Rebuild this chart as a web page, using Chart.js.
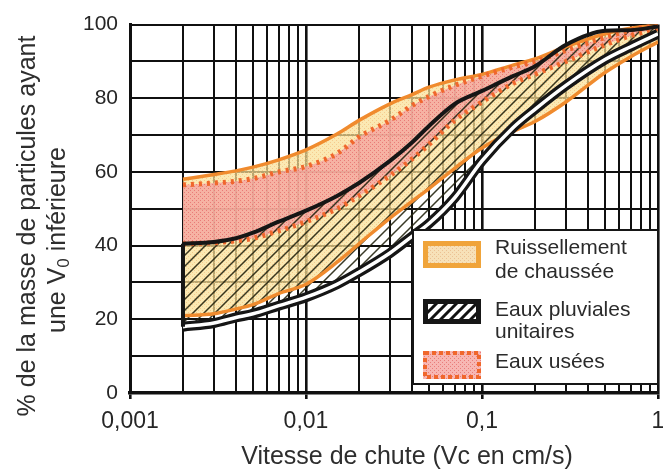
<!DOCTYPE html>
<html lang="fr">
<head>
<meta charset="utf-8">
<title>Vitesse de chute des particules</title>
<script src="https://cdn.jsdelivr.net/npm/chart.js@4.4.1/dist/chart.umd.min.js"></script>
<style>
  html, body { margin: 0; padding: 0; background: #fff; overflow: hidden; }
  canvas { display: block; }
</style>
</head>
<body>
<canvas id="graphique" width="680" height="473"></canvas>
<script>
// Vitesses de chute (cm/s) communes à toutes les courbes
const vitesses = [0.002, 0.003, 0.004, 0.005, 0.007, 0.01, 0.015, 0.02, 0.03, 0.04, 0.05, 0.07, 0.1, 0.15, 0.2, 0.3, 0.5, 0.7, 1];

// Ruissellement de chaussée (fuseau orange)
const ruissellementHaut = [58, 59.3, 60.3, 61.3, 63.3, 66, 70.3, 74, 78.5, 81, 83, 85, 86.5, 89, 90.7, 94, 97.5, 99, 100];
const ruissellementBas  = [21, 21.5, 22.8, 24, 27, 29.5, 35.5, 40.5, 47.5, 52, 55.5, 61, 66.5, 71, 73.7, 79, 87, 91.3, 95.3];

// Eaux pluviales unitaires (fuseau noir hachuré)
const pluvialesHaut = [40.5, 41, 42, 43.5, 46.5, 49.5, 53.5, 57, 63, 68, 72.5, 78.5, 82, 86, 88.7, 94.5, 98.3, 98.5, 99.5];
const pluvialesBas  = [18, 19, 20.5, 21.5, 23.7, 26, 29.5, 32.8, 38, 42.5, 46, 53, 63, 72, 77, 83.5, 90.5, 94, 97.5];

// Eaux usées (fuseau rose pointillé)
const useesHaut = [56.5, 57, 57.5, 58.2, 60, 61.5, 65, 69.5, 74, 78, 80.5, 83.5, 86, 88.5, 90, 93, 96.5, 98.5, 100];
const useesBas  = [40.5, 40.8, 41.3, 42, 44, 46.5, 50, 53.5, 59, 63.5, 67.5, 74, 79, 84, 86.5, 90, 94.5, 97, 99];

// Axes
const graduationsX = [0.001, 0.002, 0.003, 0.004, 0.005, 0.006, 0.007, 0.008, 0.009,
                      0.01, 0.02, 0.03, 0.04, 0.05, 0.06, 0.07, 0.08, 0.09,
                      0.1, 0.2, 0.3, 0.4, 0.5, 0.6, 0.7, 0.8, 0.9, 1];
const decadesX = [0.001, 0.01, 0.1, 1];
const etiquettesX = ['0,001', '0,01', '0,1', '1'];
const etiquettesY = [0, 20, 40, 60, 80, 100];

const titreX = 'Vitesse de chute (Vc en cm/s)';
const titreY1 = '% de la masse de particules ayant';
const titreY2 = ['une V', '0', ' inférieure'];
const nomsLegende = [['Ruissellement', 'de chaussée'], ['Eaux pluviales', 'unitaires'], ['Eaux usées']];

const POLICE = '"Liberation Sans", Arial, Helvetica, sans-serif';

function points(serie) {
    return vitesses.map((v, i) => ({ x: v, y: serie[i] }));
}

// Motifs de remplissage
function motifPoints(fond, point, taille) {
    const c = document.createElement('canvas');
    c.width = c.height = taille;
    const g = c.getContext('2d');
    g.fillStyle = fond;
    g.fillRect(0, 0, taille, taille);
    g.fillStyle = point;
    g.fillRect(0, 0, 1, 1);
    g.fillRect(taille / 2, taille / 2, 1, 1);
    return g.createPattern(c, 'repeat');
}

function motifHachures(fond, couleur, pas, epaisseur) {
    const c = document.createElement('canvas');
    c.width = c.height = pas;
    const g = c.getContext('2d');
    if (fond) {
        g.fillStyle = fond;
        g.fillRect(0, 0, pas, pas);
    }
    g.strokeStyle = couleur;
    g.lineWidth = epaisseur;
    g.beginPath();
    g.moveTo(0, pas); g.lineTo(pas, 0);
    g.moveTo(-pas / 2, pas / 2); g.lineTo(pas / 2, -pas / 2);
    g.moveTo(pas / 2, pas * 1.5); g.lineTo(pas * 1.5, pas / 2);
    g.stroke();
    return g.createPattern(c, 'repeat');
}

const remplJaune = motifPoints('rgba(250, 224, 150, 0.72)', 'rgba(243, 192, 130, 0.75)', 4);
const remplRose = motifPoints('rgba(245, 165, 160, 0.8)', 'rgba(232, 118, 115, 0.9)', 4);
const remplHachures = motifHachures(null, 'rgba(35, 35, 15, 0.9)', 11, 1.5);
const legJaune = motifPoints('#f7e1b8', '#ecc193', 4);
const legHachures = motifHachures('#ffffff', '#111111', 10, 3);

const ORANGE = '#f08b2e';
const ROUGE = '#f0672c';
const NOIR = '#161616';

// Titres des axes et légende dessinés sur le canevas
const decor = {
    id: 'decor',
    afterDraw(chart) {
        const { ctx, chartArea: a } = chart;
        ctx.save();
        ctx.fillStyle = '#2e2e2e';
        ctx.font = '25px ' + POLICE;
        ctx.textBaseline = 'middle';

        // titre X
        ctx.textAlign = 'center';
        ctx.fillText(titreX, 407, 457);

        // titre Y, ligne 1
        ctx.save();
        ctx.translate(28, 226);
        ctx.rotate(-Math.PI / 2);
        ctx.fillText(titreY1, 0, 0);
        ctx.restore();

        // titre Y, ligne 2 avec indice
        ctx.save();
        ctx.translate(58, 240);
        ctx.rotate(-Math.PI / 2);
        ctx.textAlign = 'left';
        const w1 = ctx.measureText(titreY2[0]).width;
        ctx.font = '17px ' + POLICE;
        const w2 = ctx.measureText(titreY2[1]).width;
        ctx.font = '25px ' + POLICE;
        const w3 = ctx.measureText(titreY2[2]).width;
        let x0 = -(w1 + w2 + w3) / 2;
        ctx.fillText(titreY2[0], x0, 0);
        ctx.font = '17px ' + POLICE;
        ctx.fillText(titreY2[1], x0 + w1, 6);
        ctx.font = '25px ' + POLICE;
        ctx.fillText(titreY2[2], x0 + w1 + w2, 0);
        ctx.restore();

        // légende
        const bw = 245, bh = 154;
        const bx = a.right - bw, by = a.bottom - 163;
        ctx.fillStyle = '#ffffff';
        ctx.fillRect(bx, by, bw, bh);
        ctx.strokeStyle = NOIR;
        ctx.lineWidth = 2;
        ctx.strokeRect(bx, by, bw, bh);

        const sx = bx + 10, sw = 58;
        // Ruissellement
        ctx.fillStyle = legJaune;
        ctx.fillRect(sx, by + 11, sw, 27);
        ctx.strokeStyle = '#f0a43a';
        ctx.lineWidth = 5;
        ctx.strokeRect(sx + 2.5, by + 13.5, sw - 5, 22);
        // Eaux pluviales
        ctx.fillStyle = legHachures;
        ctx.fillRect(sx, by + 69, sw, 25);
        ctx.strokeStyle = NOIR;
        ctx.lineWidth = 5;
        ctx.strokeRect(sx + 2.5, by + 71.5, sw - 5, 20);
        // Eaux usées
        ctx.fillStyle = remplRose;
        ctx.fillRect(sx, by + 121, sw, 28);
        ctx.strokeStyle = ROUGE;
        ctx.lineWidth = 4;
        ctx.setLineDash([4, 3]);
        ctx.strokeRect(sx + 2, by + 123, sw - 4, 24);
        ctx.setLineDash([]);

        ctx.fillStyle = '#2b2b2b';
        ctx.font = '21px ' + POLICE;
        ctx.textAlign = 'left';
        const tx = bx + 82;
        const lignesY = [[by + 18, by + 42], [by + 80, by + 102], [by + 132]];
        nomsLegende.forEach((lignes, i) => {
            lignes.forEach((t, j) => ctx.fillText(t, tx, lignesY[i][j]));
        });
        ctx.restore();
    }
};

const ctx = document.getElementById('graphique').getContext('2d');

new Chart(ctx, {
    type: 'line',
    data: {
        datasets: [
            { // bord gauche du fuseau pluvial
                data: [{ x: vitesses[0], y: pluvialesBas[0] }, { x: vitesses[0], y: pluvialesHaut[0] }],
                borderColor: NOIR, borderWidth: 4, fill: false, tension: 0
            },
            {
                label: 'Eaux pluviales unitaires (haut)',
                data: points(pluvialesHaut),
                borderColor: NOIR, borderWidth: 4,
                backgroundColor: remplHachures, fill: 3
            },
            { // trait clair du double trait inférieur
                data: points(pluvialesBas),
                borderColor: '#ffffff', borderWidth: 3.5, fill: false
            },
            {
                label: 'Eaux pluviales unitaires (bas)',
                data: points(pluvialesBas),
                borderColor: NOIR, borderWidth: 10, fill: false
            },
            {
                label: 'Eaux usées (haut)',
                data: points(useesHaut),
                borderColor: ROUGE, borderWidth: 5, borderDash: [3, 5],
                backgroundColor: remplRose, fill: 5
            },
            {
                label: 'Eaux usées (bas)',
                data: points(useesBas),
                borderColor: ROUGE, borderWidth: 5, borderDash: [3, 5], fill: false
            },
            {
                label: 'Ruissellement de chaussée (haut)',
                data: points(ruissellementHaut),
                borderColor: ORANGE, borderWidth: 3.5,
                backgroundColor: remplJaune, fill: 7
            },
            {
                label: 'Ruissellement de chaussée (bas)',
                data: points(ruissellementBas),
                borderColor: ORANGE, borderWidth: 3.5, fill: false
            }
        ]
    },
    options: {
        responsive: false,
        animation: false,
        elements: {
            point: { radius: 0, hoverRadius: 0 },
            line: { cubicInterpolationMode: 'monotone' }
        },
        layout: { padding: { left: 0, top: 15, right: 22, bottom: 0 } },
        plugins: {
            legend: { display: false },
            tooltip: { enabled: false },
            filler: { drawTime: 'beforeDatasetsDraw' }
        },
        scales: {
            x: {
                type: 'logarithmic',
                min: 0.001,
                max: 1,
                afterBuildTicks: s => { s.ticks = graduationsX.map(v => ({ value: v })); },
                afterFit: s => { s.height = 80; },
                grid: {
                    color: '#101010',
                    lineWidth: c => decadesX.includes(c.tick && c.tick.value) ? 2.6 : 2,
                    tickLength: 6,
                    tickColor: c => decadesX.includes(c.tick && c.tick.value) ? '#101010' : 'rgba(0,0,0,0)'
                },
                border: { color: '#101010', width: 3.5 },
                ticks: {
                    autoSkip: false,
                    maxRotation: 0,
                    padding: 9,
                    color: '#262626',
                    font: { family: POLICE, size: 23 },
                    callback: v => {
                        const i = decadesX.indexOf(v);
                        return i >= 0 ? etiquettesX[i] : '';
                    }
                }
            },
            y: {
                min: 0,
                max: 100,
                afterFit: s => { s.width = 130; },
                grid: { color: '#101010', lineWidth: 2, drawTicks: false },
                border: { color: '#101010', width: 3 },
                ticks: {
                    stepSize: 10,
                    padding: 12,
                    color: '#262626',
                    font: { family: POLICE, size: 21 },
                    callback: v => etiquettesY.includes(v) ? String(v) : ''
                }
            }
        }
    },
    plugins: [decor]
});
</script>
</body>
</html>
